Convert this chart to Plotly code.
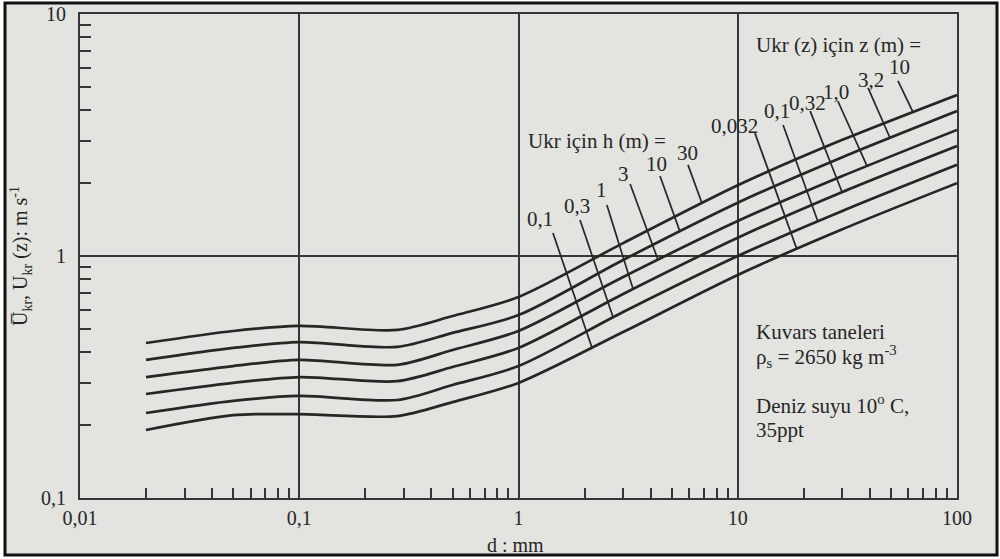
import numpy as np
import plotly.graph_objects as go

# ---------------- data ----------------
d_mm = [0.02, 0.05, 0.1, 0.28, 0.5, 1, 3, 10, 30, 100]
# threshold velocity curves, top (h=30 m / z=10 m) to bottom (h=0.1 m / z=0.032 m)
u_curve1 = [0.437, 0.490, 0.514, 0.495, 0.565, 0.677, 1.13, 1.96, 3.02, 4.63]
u_curve2 = [0.372, 0.417, 0.441, 0.421, 0.481, 0.570, 0.963, 1.66, 2.56, 3.97]
u_curve3 = [0.316, 0.351, 0.372, 0.355, 0.409, 0.490, 0.819, 1.395, 2.14, 3.32]
u_curve4 = [0.269, 0.299, 0.316, 0.304, 0.348, 0.417, 0.697, 1.19, 1.84, 2.85]
u_curve5 = [0.2245, 0.252, 0.264, 0.254, 0.293, 0.351, 0.587, 1.0, 1.535, 2.38]
u_curve6 = [0.191, 0.220, 0.222, 0.218, 0.249, 0.299, 0.485, 0.835, 1.29, 2.00]
curves = [u_curve1, u_curve2, u_curve3, u_curve4, u_curve5, u_curve6]

# labels for depth h (bottom curve first)
h_labels = ["0,1", "0,3", "1", "3", "10", "30"]
# labels for height z (bottom curve first)
z_labels = ["0,032", "0,1", "0,32", "1,0", "3,2", "10"]

x_tickvals = [0.01, 0.1, 1, 10, 100]
x_ticktext = ["0,01", "0,1", "1", "10", "100"]
y_tickvals = [0.1, 1, 10]
y_ticktext = ["0,1", "1", "10"]

# ---------------- annotation geometry (label anchors in data units) ----------------
h_label_d = [1.253, 1.85, 2.38, 3.0, 4.28, 5.93]
h_label_u = [1.42, 1.61, 1.87, 2.18, 2.40, 2.67]
h_lead_d0 = [1.436, 1.908, 2.53, 3.23, 4.42, 5.93]
h_lead_u0 = [1.245, 1.409, 1.624, 1.984, 2.14, 2.38]
h_lead_d1 = [2.16, 2.70, 3.33, 4.33, 5.45, 6.87]

z_label_d = [9.62, 15.1, 20.9, 28.0, 40.5, 54.9]
z_label_u = [3.45, 3.97, 4.29, 4.76, 5.34, 6.04]
z_lead_d0 = [11.98, 16.1, 21.4, 28.6, 39.3, 53.8]
z_lead_u0 = [3.22, 3.48, 3.97, 4.37, 4.95, 5.29]
z_lead_d1 = [18.6, 23.2, 29.9, 38.9, 49.5, 63.0]

# ---------------- layout geometry ----------------
W, H = 1000, 559
ML, MR, MT, MB = 80, 43, 14, 61
PW, PH = W - ML - MR, H - MT - MB


def px_x(p):
    return (p - ML) / PW


def px_y(p):
    return (H - MB - p) / PH


INK = "#262626"
LINE = "#363636"
PAPER = "#e3e3e0"
FONT = "Liberation Serif"
LBL = 21

fig = go.Figure()

for c in curves:
    fig.add_trace(go.Scatter(x=d_mm, y=c, mode="lines",
                             line=dict(color=INK, width=2.7, shape="spline", smoothing=0.8),
                             hoverinfo="skip", showlegend=False))

logd = np.log10(d_mm)
bottom_first = curves[::-1]


def on_curve(curve, d):
    return 10 ** np.interp(np.log10(d), logd, np.log10(curve))


annotations = []
for i in range(6):
    c = bottom_first[i]
    # h leader
    fig.add_trace(go.Scatter(x=[h_lead_d0[i], h_lead_d1[i]],
                             y=[h_lead_u0[i], on_curve(c, h_lead_d1[i])],
                             mode="lines", line=dict(color=INK, width=1.7),
                             hoverinfo="skip", showlegend=False))
    annotations.append(dict(x=np.log10(h_label_d[i]), y=np.log10(h_label_u[i]),
                            xref="x", yref="y", text=h_labels[i], showarrow=False,
                            xanchor="center", yanchor="middle",
                            font=dict(family=FONT, size=LBL, color=INK)))
    # z leader
    fig.add_trace(go.Scatter(x=[z_lead_d0[i], z_lead_d1[i]],
                             y=[z_lead_u0[i], on_curve(c, z_lead_d1[i])],
                             mode="lines", line=dict(color=INK, width=1.7),
                             hoverinfo="skip", showlegend=False))
    annotations.append(dict(x=np.log10(z_label_d[i]), y=np.log10(z_label_u[i]),
                            xref="x", yref="y", text=z_labels[i], showarrow=False,
                            xanchor="center", yanchor="middle",
                            font=dict(family=FONT, size=LBL, color=INK)))


def ptext(x, y, text, xanchor="left", size=LBL, angle=0):
    return dict(x=px_x(x), y=px_y(y), xref="paper", yref="paper", xanchor=xanchor,
                yanchor="middle", text=text, showarrow=False, textangle=angle,
                font=dict(family=FONT, size=size, color=INK))


annotations += [
    ptext(526, 141, "Ukr için h (m) ="),
    ptext(754, 45, "Ukr (z) için z (m) ="),
    ptext(754, 332, "Kuvars taneleri"),
    ptext(754, 356, "ρ<sub>s</sub> = 2650 kg m<sup>-3</sup>"),
    ptext(754, 404, "Deniz suyu 10<sup>o</sup> C,"),
    ptext(754, 430, "35ppt"),
    ptext(515, 545, "d : mm", xanchor="center", size=20),
    ptext(21, 256, "U\u0305<sub>kr</sub>, U<sub>kr</sub> (z): m s<sup>-1</sup>",
          xanchor="center", size=20, angle=-90),
]

minor_x = [m * 10.0 ** e for e in range(-2, 2) for m in range(2, 10)]
minor_y = [m * 10.0 ** e for e in range(-1, 1) for m in range(2, 10)]

axis_common = dict(type="log", showline=True, linecolor=LINE, linewidth=2, mirror=True,
                   showgrid=True, gridcolor=LINE, gridwidth=1.6, zeroline=False,
                   automargin=False,
                   ticks="", tickfont=dict(family=FONT, size=20, color=INK))

fig.update_xaxes(range=[-2, 2], tickmode="array", tickvals=x_tickvals, ticktext=x_ticktext,
                 ticklabelstandoff=1,
                 minor=dict(tickmode="array", tickvals=minor_x, ticks="inside", ticklen=10,
                            tickcolor=LINE, tickwidth=1.7, showgrid=False),
                 **axis_common)
fig.update_yaxes(range=[-1, 1], tickmode="array", tickvals=y_tickvals, ticktext=y_ticktext,
                 ticklabelstandoff=8,
                 minor=dict(tickmode="array", tickvals=minor_y, ticks="inside", ticklen=11,
                            tickcolor=LINE, tickwidth=1.7, showgrid=False),
                 **axis_common)

fig.update_layout(
    width=W, height=H,
    margin=dict(l=ML, r=MR, t=MT, b=MB),
    paper_bgcolor="white",
    plot_bgcolor="rgba(0,0,0,0)",
    annotations=annotations,
    shapes=[dict(type="rect", xref="paper", yref="paper", layer="below",
                 x0=px_x(5), x1=px_x(997), y0=px_y(555), y1=px_y(3),
                 line=dict(color="#111111", width=3), fillcolor=PAPER)],
)

fig.write_html("out.html")
